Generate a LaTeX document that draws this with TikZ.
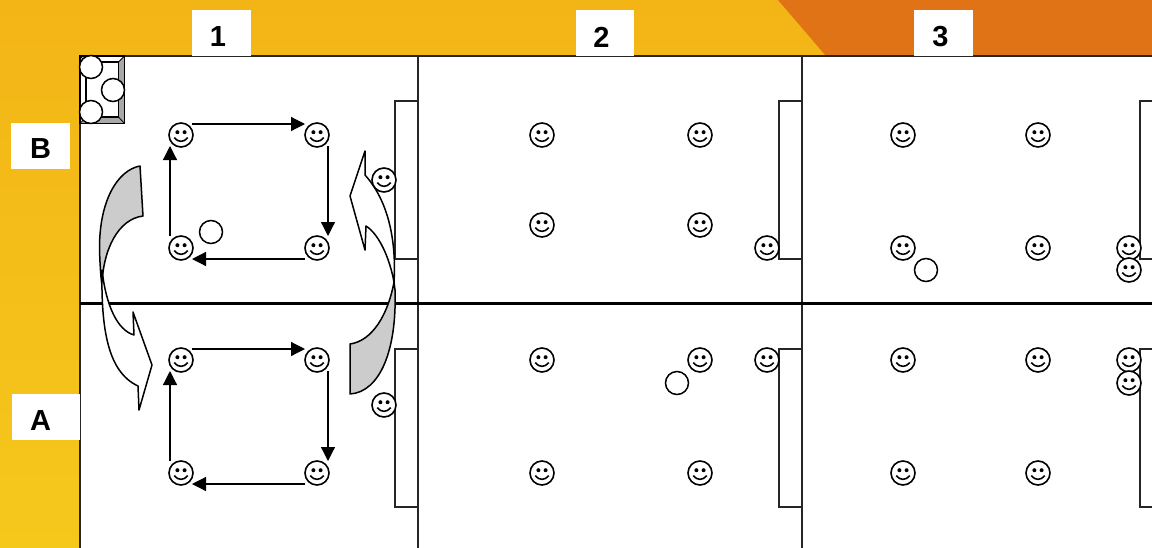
\documentclass[tikz,border=0pt]{standalone}
\usepackage{fontspec}
\setmainfont{Liberation Sans}
\usetikzlibrary{arrows.meta,calc}
\definecolor{yelA}{HTML}{F3B516}
\definecolor{yelB}{HTML}{F5C81C}
\definecolor{oran}{HTML}{DF7315}
\definecolor{arrowgray}{HTML}{CCCCCC}
\definecolor{bevel}{HTML}{A8A8A8}
\tikzset{
  x=1pt,y=-1pt,
  smiley/.style={circle,draw=black,fill=white,line width=1.6pt,minimum size=24pt,inner sep=0pt,
    path picture={
      \begin{scope}[shift={(path picture bounding box.center)}]
        \fill[black] (-3.6,-2.8) circle (2);
        \fill[black] (3.6,-2.8) circle (2);
        \draw[black,line width=1.6pt] (-6.8,2.6) .. controls (-3,7.6) and (3,7.6) .. (6.8,2.6);
      \end{scope}}},
  ball/.style={circle,draw=black,fill=white,line width=1.5pt,minimum size=23pt,inner sep=0pt},
  runarrow/.style={line width=1.2pt,-{Triangle[length=14pt,width=14pt]}},
  labelbox/.style={fill=white,inner sep=0pt,minimum height=46pt},
  labeltext/.style={inner sep=0pt,font=\bfseries\fontsize{29}{29}\selectfont},
  pitchline/.style={line width=1.4pt,draw=black!85},
  swoop/.style={draw=black,line width=1.5pt,line join=round},
}
\begin{document}
\begin{tikzpicture}
\useasboundingbox (0,0) rectangle (1152,547);
\shade[top color=yelA,bottom color=yelB] (0,0) rectangle (1152,548);
\fill[oran] (778,0) -- (826,56) -- (1152,56) -- (1152,0) -- cycle;
\fill[white] (80,56) rectangle (1153,549);

% pitch lines
\draw[pitchline] (80,549) -- (80,56) -- (1153,56);
\draw[pitchline] (418,56) -- (418,549);
\draw[pitchline] (802,56) -- (802,549);
\draw[black,line width=3pt] (80,303.5) -- (1153,303.5);

% goals
\draw[pitchline] (395,101) rectangle (418,259);
\draw[pitchline] (395,349) rectangle (418,507);
\draw[pitchline] (779,101) rectangle (802,259);
\draw[pitchline] (779,349) rectangle (802,507);
\draw[pitchline] (1153,101) -- (1140,101) -- (1140,259) -- (1153,259);
\draw[pitchline] (1153,349) -- (1140,349) -- (1140,507) -- (1153,507);

% labels
\node[labelbox,minimum width=59pt] (box1) at (221.5,33) {};
\node[labeltext] (n1) at (218,37) {1};
\node[labelbox,minimum width=58pt] (box2) at (605,33) {};
\node[labeltext] (n2) at (601.5,37) {2};
\node[labelbox,minimum width=59pt] (box3) at (943.5,33) {};
\node[labeltext] (n3) at (940.5,37) {3};
\node[labelbox,minimum width=59pt] (boxb) at (40.5,146) {};
\node[labeltext] (lb) at (40.5,149) {B};
\node[labelbox,minimum width=68pt] (boxa) at (46,417) {};
\node[labeltext] (la) at (40.5,421) {A};

% ball box
\fill[white] (80,56) rectangle (124.5,123.5);
\fill[bevel] (124.5,56) -- (118.5,62) -- (118.5,117) -- (86,117) -- (80,123.5) -- (124.5,123.5) -- cycle;
\draw[black,line width=1.5pt] (80,56) rectangle (124.5,123.5);
\draw[black,line width=1.5pt] (86,62) rectangle (118.5,117);
\draw[black,line width=.8pt] (80,56) -- (86,62) (124.5,56) -- (118.5,62) (80,123.5) -- (86,117) (124.5,123.5) -- (118.5,117);
\node[ball] (b1) at (91,67) {};
\node[ball] (b2) at (113,90) {};
\node[ball] (b3) at (91,112) {};

% swoops: left
\draw[swoop,fill=arrowgray] (140,166) .. controls (118,170) and (99,200) .. (99.5,250)
  .. controls (100,265) and (101,280) .. (102,285)
  .. controls (103,250) and (118,219) .. (143,216) -- cycle;
\draw[swoop,fill=white] (102,270) .. controls (101,330) and (108,372) .. (138,386)
  -- (139,410) -- (152,365) -- (133,312) -- (134,335)
  .. controls (117,330) and (106,305) .. (102,270) -- cycle;
% swoops: right
\draw[swoop,fill=white] (365,151) -- (350,196) -- (365,250) -- (366,226)
  .. controls (380,235) and (390,260) .. (394,282)
  .. controls (396,250) and (392,205) .. (365,175) -- cycle;
\draw[swoop,fill=arrowgray] (394,282) .. controls (388,315) and (372,341) .. (350,344)
  -- (350,394) .. controls (380,392) and (397,350) .. (395,290) -- cycle;

% smileys
\node[smiley] (s1) at (181,135) {};
\node[smiley] (s2) at (317,135) {};
\node[smiley] (s3) at (317,248) {};
\node[smiley] (s4) at (181,248) {};
\node[smiley] (s5) at (181,360) {};
\node[smiley] (s6) at (317,360) {};
\node[smiley] (s7) at (317,473) {};
\node[smiley] (s8) at (181,473) {};
\node[smiley] (s9) at (384,180) {};
\node[smiley] (s10) at (384,405) {};
\node[smiley] (s11) at (542,135) {};
\node[smiley] (s12) at (700,135) {};
\node[smiley] (s13) at (542,225) {};
\node[smiley] (s14) at (700,225) {};
\node[smiley] (s15) at (767,248) {};
\node[smiley] (s16) at (542,360) {};
\node[smiley] (s17) at (700,360) {};
\node[smiley] (s18) at (767,360) {};
\node[smiley] (s19) at (542,473) {};
\node[smiley] (s20) at (700,473) {};
\node[smiley] (s21) at (903,135) {};
\node[smiley] (s22) at (1038,135) {};
\node[smiley] (s23) at (903,248) {};
\node[smiley] (s24) at (1038,248) {};
\node[smiley] (s25) at (1129,248) {};
\node[smiley] (s26) at (1129,270) {};
\node[smiley] (s27) at (903,360) {};
\node[smiley] (s28) at (1038,360) {};
\node[smiley] (s29) at (1129,360) {};
\node[smiley] (s30) at (1129,383) {};
\node[smiley] (s31) at (903,473) {};
\node[smiley] (s32) at (1038,473) {};

% balls
\node[ball] (b4) at (211,232) {};
\node[ball] (b5) at (926,270) {};
\node[ball] (b6) at (677,383) {};

% run arrows
\draw[runarrow] ($(s1)+(11,-11)$) -- ($(s2)+(-12,-11)$);
\draw[runarrow] ($(s2)+(11,11)$) -- ($(s3)+(11,-12)$);
\draw[runarrow] ($(s3)+(-12,11)$) -- ($(s4)+(11,11)$);
\draw[runarrow] ($(s4)+(-11,-12)$) -- ($(s1)+(-11,11)$);
\draw[runarrow] ($(s5)+(11,-11)$) -- ($(s6)+(-12,-11)$);
\draw[runarrow] ($(s6)+(11,11)$) -- ($(s7)+(11,-12)$);
\draw[runarrow] ($(s7)+(-12,11)$) -- ($(s8)+(11,11)$);
\draw[runarrow] ($(s8)+(-11,-12)$) -- ($(s5)+(-11,11)$);
\end{tikzpicture}
\end{document}
